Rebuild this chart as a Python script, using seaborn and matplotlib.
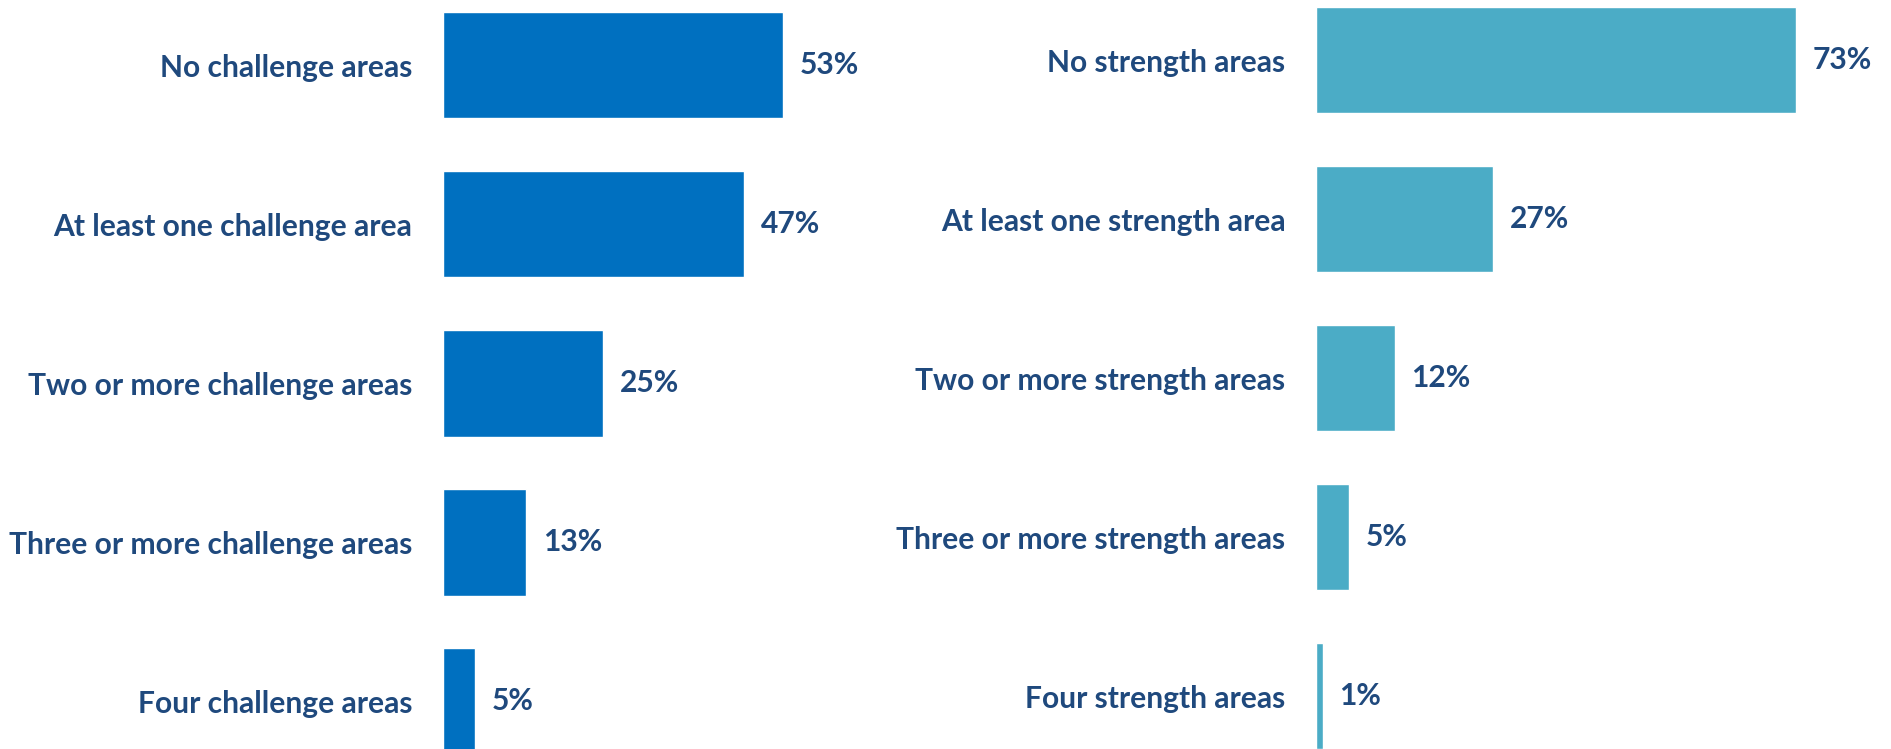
import matplotlib
matplotlib.use("Agg")
import matplotlib.pyplot as plt
import seaborn as sns
import pandas as pd

# Data
challenge_labels = ["No challenge areas", "At least one challenge area",
                    "Two or more challenge areas", "Three or more challenge areas",
                    "Four challenge areas"]
challenge_values = [53, 47, 25, 13, 5]

strength_labels = ["No strength areas", "At least one strength area",
                   "Two or more strength areas", "Three or more strength areas",
                   "Four strength areas"]
strength_values = [73, 27, 12, 5, 1]

sns.set_style("white")
plt.rcParams['font.family'] = ['Lato', 'DejaVu Sans']
plt.rcParams['font.weight'] = 'bold'

text_color = '#1F497D'
W, H = 1891, 749
fig = plt.figure(figsize=(W / 100, H / 100), dpi=100)

# axes placed in pixels so bars line up with the reference
ax1 = fig.add_axes([443 / W, 0, 384.6 / W, 1])
ax2 = fig.add_axes([1316 / W, 0, 525.6 / W, 1])

df1 = pd.DataFrame({'label': challenge_labels, 'value': challenge_values})
df2 = pd.DataFrame({'label': strength_labels, 'value': strength_values})

sns.barplot(data=df1, x='value', y='label', color='#0070C0', saturation=1,
            width=0.67, ax=ax1)
sns.barplot(data=df2, x='value', y='label', color='#4BACC6', saturation=1,
            width=0.67, ax=ax2)

fs = 21.6
for ax, xmax, ylim in [(ax1, 60, (4.30, -0.41)), (ax2, 80, (4.333, -0.378))]:
    ax.set_xlim(0, xmax)
    ax.set_ylim(*ylim)
    ax.set_xlabel('')
    ax.set_ylabel('')
    ax.set_xticks([])
    ax.tick_params(axis='y', length=0, pad=22, labelsize=fs, labelcolor=text_color)
    for s in ax.spines.values():
        s.set_visible(False)
    ax.patch.set_alpha(0)
    ax.bar_label(ax.containers[0], labels=[f"{v:.0f}%" for v in ax.containers[0].datavalues],
                 padding=12, fontsize=fs, color=text_color, fontweight='bold')

plt.savefig('out.png', dpi=100)
